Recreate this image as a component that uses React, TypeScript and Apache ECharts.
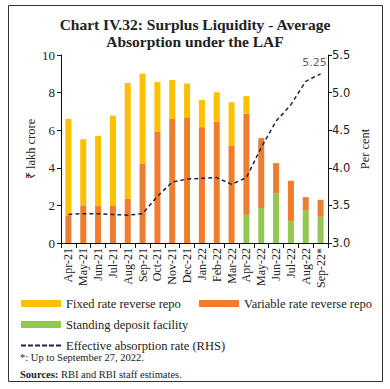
import React, { useEffect, useRef } from "react";
import * as echarts from "echarts";

const categories = ["Apr-21", "May-21", "Jun-21", "Jul-21", "Aug-21", "Sep-21", "Oct-21", "Nov-21", "Dec-21", "Jan-22", "Feb-22", "Mar-22", "Apr-22", "May-22", "Jun-22", "Jul-22", "Aug-22", "Sep-22*"];
const fixedRate = [5.13, 3.52, 3.7, 4.78, 6.16, 4.78, 2.64, 2.07, 1.83, 1.45, 1.56, 2.32, 0.93, 0, 0, 0, 0, 0];
const variableRate = [1.47, 2.0, 2.0, 2.0, 2.35, 4.23, 5.93, 6.6, 6.65, 6.16, 6.46, 5.17, 5.38, 3.72, 1.6, 2.16, 0.69, 0.9];
const sdf = [0, 0, 0, 0, 0, 0, 0, 0, 0, 0, 0, 0, 1.5, 1.86, 2.65, 1.15, 1.75, 1.4];
const absorptionRate = [3.38, 3.39, 3.39, 3.38, 3.37, 3.39, 3.62, 3.81, 3.85, 3.86, 3.87, 3.78, 3.87, 4.27, 4.62, 4.84, 5.15, 5.25];
const leftTicks = { min: 0, max: 10, interval: 2 };
const rightTicks = { min: 3.0, max: 5.5, interval: 0.5 };

const SERIF = "Liberation Serif";
const SANS = "DejaVu Sans";
const YELLOW = "#FFC000";
const ORANGE = "#ED7D31";
const GREEN = "#92C84F";
const NAVY = "#1B2448";

const DASH_ICON = "path://M0,0H5V2H0Z M7,0H12V2H7Z M14,0H19V2H14Z M21,0H26V2H21Z M28,0H33V2H28Z M35,0H40V2H35Z";

export default function App() {
  const ref = useRef<HTMLDivElement>(null);
  useEffect(() => {
    if (!ref.current) return;
    const chart = echarts.init(ref.current, null, { renderer: "svg" });
    const legendBase = {
      orient: "horizontal",
      itemWidth: 40,
      itemHeight: 7,
      itemGap: 10,
      textStyle: { fontFamily: SERIF, fontSize: 12.5, color: "#222", padding: [0, 0, 0, 0] },
      padding: 0,
    };
    const lastIdx = absorptionRate.length - 1;
    const option: any = {
      animation: false,
      backgroundColor: "#fff",
      title: {
        text: "Chart IV.32: Surplus Liquidity - Average\nAbsorption under the LAF",
        left: "center",
        top: 16,
        padding: 0,
        textStyle: { fontFamily: SERIF, fontSize: 15.5, fontWeight: "bold", color: "#222", lineHeight: 17 },
      },
      grid: { left: 61, right: 62, top: 55, bottom: 146, containLabel: false },
      legend: [
        { ...legendBase, data: [{ name: "Fixed rate reverse repo", icon: "rect" }], left: 21, top: 297 },
        { ...legendBase, data: [{ name: "Variable rate reverse repo", icon: "rect" }], left: 199, top: 297 },
        { ...legendBase, data: [{ name: "Standing deposit facility", icon: "rect" }], left: 21, top: 318 },
        { ...legendBase, itemHeight: 2, data: [{ name: "Effective absorption rate (RHS)", icon: DASH_ICON }], left: 21, top: 339 },
      ],
      xAxis: {
        type: "category",
        data: categories,
        boundaryGap: true,
        axisLine: { lineStyle: { color: "#111", width: 1 } },
        axisTick: { show: true, alignWithLabel: false, length: 5, lineStyle: { color: "#111" } },
        axisLabel: { rotate: 90, fontFamily: SERIF, fontSize: 12, color: "#222", margin: 5, interval: 0 },
      },
      yAxis: [
        {
          type: "value",
          ...leftTicks,
          name: "₹ lakh crore",
          nameLocation: "middle",
          nameGap: 24,
          nameMoveOverlap: false,
          nameTextStyle: { fontFamily: SERIF, fontSize: 12.5, color: "#222" },
          axisLine: { show: true, lineStyle: { color: "#111" } },
          axisTick: { show: true, length: 4, lineStyle: { color: "#111" } },
          axisLabel: { fontFamily: SERIF, fontSize: 13, color: "#222", margin: 6 },
          splitLine: { show: false },
        },
        {
          type: "value",
          ...rightTicks,
          name: "Per cent",
          nameLocation: "middle",
          nameGap: 30,
          nameMoveOverlap: false,
          nameRotate: 90,
          nameTextStyle: { fontFamily: SERIF, fontSize: 12.5, color: "#222" },
          axisLine: { show: true, lineStyle: { color: "#111" } },
          axisTick: { show: true, length: 4, lineStyle: { color: "#111" } },
          axisLabel: { fontFamily: SANS, fontSize: 11.5, color: "#222", margin: 4, formatter: (v: number) => v.toFixed(1) },
          splitLine: { show: false },
        },
      ],
      series: [
        { name: "Standing deposit facility", type: "bar", stack: "liq", data: sdf, barWidth: 6, itemStyle: { color: GREEN } },
        { name: "Variable rate reverse repo", type: "bar", stack: "liq", data: variableRate, barWidth: 6, itemStyle: { color: ORANGE } },
        { name: "Fixed rate reverse repo", type: "bar", stack: "liq", data: fixedRate, barWidth: 6, itemStyle: { color: YELLOW } },
        {
          name: "Effective absorption rate (RHS)",
          type: "line",
          yAxisIndex: 1,
          data: absorptionRate,
          symbol: "none",
          itemStyle: { color: NAVY },
          lineStyle: { color: NAVY, width: 1.5, type: [4, 3] },
          z: 5,
        },
        {
          name: "rate-label",
          type: "scatter",
          yAxisIndex: 1,
          data: [[categories[lastIdx], absorptionRate[lastIdx]]],
          symbolSize: 1,
          itemStyle: { color: "rgba(0,0,0,0)" },
          label: {
            show: true,
            position: "top",
            offset: [-6, 0],
            formatter: (p: any) => p.value[1].toFixed(2),
            fontFamily: SANS,
            fontSize: 11,
            color: "#333",
          },
          z: 6,
        },
      ],
      graphic: [
        { type: "rect", shape: { x: 8.5, y: 5.5, width: 374, height: 376 }, style: { fill: "none", stroke: "#333", lineWidth: 1 }, silent: true },
        { type: "text", left: 20, top: 352, style: { text: "*: Up to September 27, 2022.", fontFamily: SERIF, fontSize: 10.5, fill: "#222" } },
        {
          type: "text",
          left: 20,
          top: 369,
          style: {
            text: "{b|Sources:} RBI and RBI staff estimates.",
            fontFamily: SERIF,
            fontSize: 10.5,
            fill: "#222",
            rich: { b: { fontFamily: SERIF, fontSize: 10.5, fontWeight: "bold", fill: "#222" } },
          },
        },
      ],
    };
    chart.setOption(option);
    return () => chart.dispose();
  }, []);
  return <div ref={ref} style={{ position: "fixed", left: 0, top: 0, width: 390, height: 389 }} />;
}
